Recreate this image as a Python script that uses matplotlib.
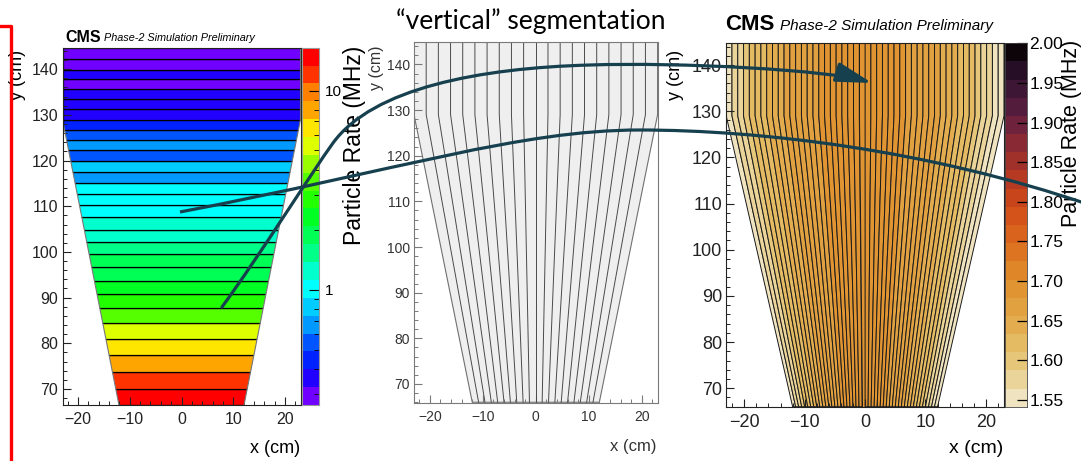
import numpy as np
import matplotlib
matplotlib.use("Agg")
import matplotlib.pyplot as plt
from matplotlib.colors import ListedColormap, BoundaryNorm
from matplotlib.patches import Polygon, PathPatch, FancyArrowPatch, ArrowStyle
from matplotlib.path import Path
from matplotlib.lines import Line2D
from matplotlib.collections import PolyCollection
from matplotlib.ticker import MultipleLocator, LogLocator, NullFormatter

plt.rcParams['font.family'] = ['Liberation Sans Narrow', 'Liberation Sans', 'DejaVu Sans']

# ---------------- data ----------------
# left panel: horizontal segmentation, strip edges in y (cm), bottom -> top
h_edges = [66.5, 69.9, 73.8, 77.4, 80.9, 84.4, 87.7, 90.7, 93.6, 96.6, 99.5, 102.2,
           104.9, 107.7, 110.3, 112.7, 115.1, 117.5, 119.9, 122.3, 124.5, 126.7, 128.8,
           131.2, 133.4, 135.6, 137.8, 139.9, 142.3, 144.7]
# particle rate per strip (MHz)
h_rates = [14.8, 12.0, 8.0, 6.5, 5.3, 3.5, 2.8, 2.3, 1.9, 1.85, 1.5, 1.25, 1.22,
           1.0, 1.02, 0.98, 0.67, 0.82, 0.54, 0.67, 0.55, 0.44, 0.36, 0.36, 0.35,
           0.29, 0.36, 0.29, 0.30]

# middle panel: number of vertical strips (geometry only)
n_mid = 20

# right panel: vertical segmentation, particle rate per strip (MHz), left -> right
v_rates = [1.552, 1.565, 1.585, 1.600, 1.612, 1.622, 1.632, 1.640, 1.648, 1.654,
           1.660, 1.664, 1.668, 1.672, 1.675, 1.678, 1.681, 1.683, 1.685, 1.687,
           1.688, 1.690, 1.691, 1.692, 1.692, 1.691, 1.689, 1.688, 1.686, 1.684,
           1.682, 1.679, 1.676, 1.673, 1.669, 1.665, 1.661, 1.655, 1.649, 1.641,
           1.633, 1.623, 1.613, 1.601, 1.587, 1.568, 1.556, 1.549]

# colour scales
left_colors = ['#7000ff', '#2200ff', '#0022ff', '#0055ff', '#0099ff', '#00ccff',
               '#00ffff', '#00ffcc', '#00ff88', '#00ff55', '#00ff22', '#22ff00',
               '#55ff00', '#99ff00', '#ddff00', '#ffe600', '#ffa500', '#ff8000',
               '#ff3300', '#ff0000']
left_range = (0.264, 16.4)
left_cb_ticks = [1, 10]
left_cb_labels = ['1', '10']

right_colors = ['#f0e4c0', '#ead49a', '#e6c679', '#e4ba62', '#e3ad4f', '#e2a140',
                '#e09432', '#df8628', '#dc7421', '#d9631c', '#d3531a', '#c8451c',
                '#b63a22', '#a0302a', '#882934', '#6e223c', '#541c3c', '#3c1634',
                '#260e26', '#0c0408']
right_range = (1.5415, 2.00)
right_cb_ticks = [1.55, 1.60, 1.65, 1.70, 1.75, 1.80, 1.85, 1.90, 1.95, 2.00]
right_cb_labels = ['1.55', '1.60', '1.65', '1.70', '1.75', '1.80', '1.85', '1.90', '1.95', '2.00']

x_ticks = [-20, -10, 0, 10, 20]
y_ticks = [70, 80, 90, 100, 110, 120, 130, 140]

# chamber geometry (cm)
X_TOP, X_BOT = 23.0, 12.0
Y_BOT, Y_KINK, Y_TOP = 66.0, 129.0, 145.0

# ---------------- figure ----------------
W, H = 1081, 461
fig = plt.figure(figsize=(W / 100, H / 100), dpi=100)


def box(x0, y0, x1, y1):
    return [x0 / W, 1 - y1 / H, (x1 - x0) / W, (y1 - y0) / H]


def P(x, y):
    return (x / W, 1 - y / H)


ax1 = fig.add_axes(box(62.5, 47.7, 300.5, 405))
cax1 = fig.add_axes(box(302, 47.7, 319, 405))
ax2 = fig.add_axes(box(414, 42, 657.6, 402.7))
ax3 = fig.add_axes(box(726.2, 43.3, 1004, 406.7))
cax3 = fig.add_axes(box(1005, 43.3, 1026.7, 406.7))

outline = [(-X_BOT, Y_BOT), (X_BOT, Y_BOT), (X_TOP, Y_KINK), (X_TOP, Y_TOP),
           (-X_TOP, Y_TOP), (-X_TOP, Y_KINK)]

# ---- left panel ----
cmapL = ListedColormap(left_colors)
boundsL = np.logspace(np.log10(left_range[0]), np.log10(left_range[1]), len(left_colors) + 1)
normL = BoundaryNorm(boundsL, cmapL.N)
edges = np.array(h_edges)
clip = Polygon(outline, closed=True, transform=ax1.transData)
bars = ax1.barh(edges[:-1], 2 * X_TOP, left=-X_TOP, height=np.diff(edges), align='edge',
                color=cmapL(normL(np.array(h_rates))), edgecolor='black', linewidth=0.9)
for b in bars:
    b.set_clip_path(clip)
ox = [p[0] for p in outline] + [outline[0][0]]
oy = [p[1] for p in outline] + [outline[0][1]]
ax1.plot(ox, oy, color='#777777', lw=0.8)
ax1.set_xlim(-23, 23)
ax1.set_ylim(66.5, 144.7)

# ---- middle panel ----
ax2.add_patch(Polygon(outline, closed=True, facecolor='#efefef', edgecolor='#707070', lw=0.8))
xt = np.linspace(-X_TOP, X_TOP, n_mid + 1)
xb = np.linspace(-X_BOT, X_BOT, n_mid + 1)
for a, b in zip(xb[1:-1], xt[1:-1]):
    ax2.plot([a, b, b], [Y_BOT, Y_KINK, Y_TOP], color='#4a4a4a', lw=0.7)
ax2.set_xlim(-23, 23)
ax2.set_ylim(65.9, 144.9)

# ---- right panel ----
cmapR = ListedColormap(right_colors)
boundsR = np.linspace(right_range[0], right_range[1], len(right_colors) + 1)
normR = BoundaryNorm(boundsR, cmapR.N)
nR = len(v_rates)
xtR = np.linspace(-X_TOP, X_TOP, nR + 1)
xbR = np.linspace(-X_BOT, X_BOT, nR + 1)
polys = []
for i in range(nR):
    polys.append([(xbR[i], Y_BOT), (xbR[i + 1], Y_BOT), (xtR[i + 1], Y_KINK),
                  (xtR[i + 1], Y_TOP), (xtR[i], Y_TOP), (xtR[i], Y_KINK)])
pc = PolyCollection(polys, array=np.array(v_rates), cmap=cmapR, norm=normR,
                    edgecolors='#1a1a1a', linewidths=0.7)
ax3.add_collection(pc)
ax3.set_xlim(-23, 23)
ax3.set_ylim(66.0, 144.7)

# ---- axis styling ----
for ax, fs, sc, lc in [(ax1, 11.5, '#222222', '#222222'), (ax2, 10, '#7a7a7a', '#333333'),
                       (ax3, 13, '#222222', '#222222')]:
    ax.set_xticks(x_ticks)
    ax.set_yticks(y_ticks)
    ax.xaxis.set_minor_locator(MultipleLocator(2))
    ax.yaxis.set_minor_locator(MultipleLocator(2))
    ax.tick_params(which='both', direction='in', top=False, right=False, colors=sc,
                   labelcolor=lc, labelsize=fs)
    ax.tick_params(which='major', length=6, width=0.8)
    ax.tick_params(which='minor', length=3, width=0.7)
    ax.tick_params(axis='x', pad=5)
    ax.tick_params(axis='y', pad=3)
    for s in ax.spines.values():
        s.set_color(sc)
        s.set_linewidth(0.8)
    ax.set_facecolor('white')

# ---- colour bars ----
midsL = np.sqrt(boundsL[:-1] * boundsL[1:])
cax1.pcolormesh([0, 1], boundsL, midsL.reshape(-1, 1), cmap=cmapL, norm=normL)
cax1.set_yscale('log')
cax1.set_ylim(*left_range)
cax1.set_xlim(0, 1)
cax1.set_xticks([])
cax1.set_yticks(left_cb_ticks, labels=left_cb_labels)
cax1.yaxis.set_minor_locator(LogLocator(subs=np.arange(2, 10)))
cax1.yaxis.set_minor_formatter(NullFormatter())
cax1.tick_params(axis='y', which='both', direction='in', left=False, right=True,
                 labelleft=False, labelright=True, labelsize=11, pad=4)
cax1.tick_params(axis='y', which='major', length=7)
cax1.tick_params(axis='y', which='minor', length=3.5)
for s in cax1.spines.values():
    s.set_color('#9a9a9a')
    s.set_linewidth(0.8)

midsR = 0.5 * (boundsR[:-1] + boundsR[1:])
cax3.pcolormesh([0, 1], boundsR, midsR.reshape(-1, 1), cmap=cmapR, norm=normR)
cax3.set_ylim(*right_range)
cax3.set_xlim(0, 1)
cax3.set_xticks([])
cax3.set_yticks(right_cb_ticks, labels=right_cb_labels)
cax3.tick_params(axis='y', which='both', direction='in', left=False, right=True,
                 labelleft=False, labelright=True, labelsize=12.5, pad=2, length=7, width=0.9)
for s in cax3.spines.values():
    s.set_color('#444444')
    s.set_linewidth(0.6)

# ---- texts ----
fig.text(*P(18, 50), 'y (cm)', rotation=90, ha='center', va='top', fontsize=13)
fig.text(*P(300, 448), 'x (cm)', ha='right', va='center', fontsize=13)
fig.text(*P(355, 46), 'Particle Rate (MHz)', rotation=90, ha='center', va='top', fontsize=16.5)
fig.text(*P(65, 37), 'CMS', ha='left', va='center', fontsize=11.5, fontweight='bold')
fig.text(*P(104, 38), 'Phase-2 Simulation Preliminary', ha='left', va='center',
         fontsize=7.8, style='italic')

fig.text(*P(376, 46), 'y (cm)', rotation=90, ha='center', va='top', fontsize=11.5, color='#333333')
fig.text(*P(657, 446), 'x (cm)', ha='right', va='center', fontsize=12, color='#333333')

fig.text(*P(676, 50), 'y (cm)', rotation=90, ha='center', va='top', fontsize=13)
fig.text(*P(1003, 448), 'x (cm)', ha='right', va='center', fontsize=14)
fig.text(*P(1071, 40), 'Particle Rate (MHz)', rotation=90, ha='center', va='top', fontsize=15.5)
fig.text(*P(725, 25), 'CMS', ha='left', va='center', fontsize=16, fontweight='bold')
fig.text(*P(780, 26), 'Phase-2 Simulation Preliminary', ha='left', va='center',
         fontsize=11, style='italic')

fig.text(*P(531, 21), '\u201cvertical\u201d segmentation', ha='center', va='center',
         fontsize=19, family=['Lato', 'DejaVu Sans'])

# ---- red bracket ----
fig.add_artist(Line2D([P(0, 26)[0], P(11, 26)[0], P(11, 461)[0]],
                      [P(0, 26)[1], P(11, 26)[1], P(11, 461)[1]],
                      transform=fig.transFigure, color='#ff0000', lw=2.4, zorder=10))

# ---- connecting curves ----
teal = '#17404f'
c1 = [P(180, 212), P(400, 170), P(520, 130), P(640, 130),
      P(760, 130), P(930, 150), P(1090, 205)]
codes1 = [Path.MOVETO] + [Path.CURVE4] * 6
fig.add_artist(PathPatch(Path(c1, codes1), facecolor='none', edgecolor=teal, lw=2.3,
                         transform=fig.transFigure, zorder=10))

c2 = [P(222, 307), P(260, 255), P(310, 175), P(333, 143),
      P(373, 88), P(480, 68), P(590, 65),
      P(680, 62), P(830, 70), P(872, 83)]
codes2 = [Path.MOVETO] + [Path.CURVE4] * 9
arrow = FancyArrowPatch(path=Path(c2, codes2),
                        arrowstyle=ArrowStyle('-|>', head_length=22, head_width=6),
                        mutation_scale=1, transform=fig.transFigure,
                        color=teal, lw=2.3, zorder=10)
fig.add_artist(arrow)

fig.savefig('out.png', dpi=100)
